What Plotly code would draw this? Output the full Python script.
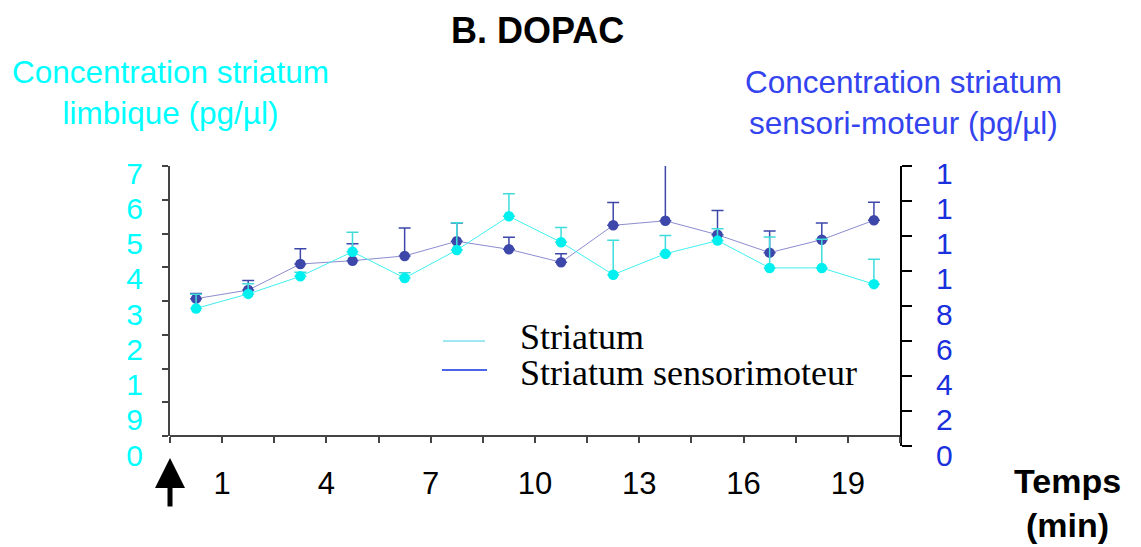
import plotly.graph_objects as go

# ---- data ----
samples = list(range(1, 15))
limbic_mean = [3.78, 4.21, 4.73, 5.46, 4.68, 5.51, 6.51, 5.74, 4.78, 5.40, 5.79, 4.98, 4.98, 4.50]
limbic_err = [0.42, 0.30, 0.12, 0.58, 0.16, 0.81, 0.67, 0.44, 1.02, 0.54, 0.35, 0.92, 0.85, 0.74]
sensori_mean = [8.42, 8.91, 10.40, 10.59, 10.86, 11.70, 11.24, 10.50, 12.61, 12.87, 12.07, 11.05, 11.79, 12.90]
sensori_err = [0.29, 0.55, 0.87, 0.97, 1.60, 1.05, 0.69, 0.49, 1.31, 3.26, 1.39, 1.24, 0.95, 1.03]

x_tick_vals = [i + 0.5 for i in range(0, 15)]
x_tick_text = ["", "1", "", "4", "", "7", "", "10", "", "13", "", "16", "", "19", ""]
left_tick_vals = list(range(0, 9))
left_tick_text = ["0", "9", "1", "2", "3", "4", "5", "6", "7"]
right_tick_vals = list(range(0, 17, 2))
right_tick_text = ["0", "2", "4", "6", "8", "1", "1", "1", "1"]

CYAN = "#00F0F0"
CYAN_TXT = "#00FFFF"
BLUE_PT = "#3D47AA"
BLUE_LINE = "#8C8CD0"
BLUE_TXT = "#1A30DD"
FONT = "Liberation Sans, Arial, sans-serif"
SERIF = "Liberation Serif, Times New Roman, serif"

fig = go.Figure()

fig.add_trace(go.Scatter(
    x=samples, y=sensori_mean, mode="lines+markers", xaxis="x", yaxis="y",
    line=dict(color=BLUE_LINE, width=1),
    marker=dict(color=BLUE_PT, size=10.5),
    error_y=dict(type="data", array=sensori_err, arrayminus=[0] * len(sensori_err),
                 symmetric=False, color=BLUE_PT, thickness=1.5, width=6),
    cliponaxis=False, showlegend=False, name="Striatum sensorimoteur"))

fig.add_trace(go.Scatter(
    x=samples, y=limbic_mean, mode="lines+markers", xaxis="x", yaxis="y2",
    line=dict(color="#40F0F0", width=1),
    marker=dict(color=CYAN, size=10.5),
    error_y=dict(type="data", array=limbic_err, arrayminus=[0] * len(limbic_err),
                 symmetric=False, color="#40DCDC", thickness=1.5, width=6),
    cliponaxis=False, showlegend=False, name="Striatum"))

# label-only axes
fig.add_trace(go.Scatter(x=[None], y=[None], xaxis="x", yaxis="y3", showlegend=False, hoverinfo="skip"))
fig.add_trace(go.Scatter(x=[None], y=[None], xaxis="x", yaxis="y4", showlegend=False, hoverinfo="skip"))

# plot area: top 150, bottom 470, left 170, right 900
T, B, L, R = 150, 470, 170, 900
def py(y):
    return (B - y) / (B - T)
def px(x):
    return (x - L) / (R - L)

main_dom = [py(436), py(166)]
right_dom = [py(446), py(166)]
lab_dom = [py(455), py(173)]

fig.update_layout(
    width=1141, height=547,
    margin=dict(l=L, r=1141 - R, t=T, b=547 - B),
    paper_bgcolor="white", plot_bgcolor="rgba(0,0,0,0)",
    font=dict(family=FONT, size=30, color="black"),
    xaxis=dict(range=[0.5, 14.5], anchor="free", position=main_dom[0],
               tickmode="array", tickvals=x_tick_vals, ticktext=x_tick_text,
               showline=True, linecolor="#444", linewidth=1.5,
               ticks="outside", ticklen=6, tickcolor="#444", tickwidth=1.5,
               showgrid=False, zeroline=False, ticklabelstandoff=14,
               tickfont=dict(size=31, color="black")),
    yaxis=dict(range=[0, 16], domain=right_dom, side="right", anchor="x",
               tickmode="array", tickvals=right_tick_vals, showticklabels=False,
               showline=True, linecolor="black", linewidth=2,
               ticks="outside", ticklen=10, tickcolor="black", tickwidth=2,
               showgrid=False, zeroline=False),
    yaxis2=dict(range=[0, 8], domain=main_dom, side="left", anchor="x",
                tickmode="array", tickvals=left_tick_vals, showticklabels=False,
                showline=True, linecolor="#444", linewidth=2,
                ticks="outside", ticklen=6, tickcolor="#444", tickwidth=1.5,
                showgrid=False, zeroline=False),
    yaxis3=dict(range=[0, 8], domain=lab_dom, side="left", anchor="free", position=0,
                tickmode="array", tickvals=left_tick_vals, ticktext=left_tick_text,
                showline=False, ticks="", showgrid=False, zeroline=False,
                ticklabelstandoff=27, tickfont=dict(size=30, color=CYAN_TXT)),
    yaxis4=dict(range=[0, 16], domain=lab_dom, side="right", anchor="free", position=1,
                tickmode="array", tickvals=right_tick_vals, ticktext=right_tick_text,
                showline=False, ticks="", showgrid=False, zeroline=False,
                ticklabelstandoff=35, tickfont=dict(size=30, color=BLUE_TXT)),
)

def a(text, x, y, size, color, family=FONT, xanchor="center"):
    return dict(text=text, x=px(x), y=py(y), xref="paper", yref="paper",
                xanchor=xanchor, yanchor="middle", showarrow=False,
                font=dict(size=size, color=color, family=family))

ann = [
    a("<b>B. DOPAC</b>", 537, 30, 36, "black"),
    a("Concentration striatum<br>limbique (pg/µl)", 170, 92.5, 31.5, CYAN_TXT),
    a("Concentration striatum<br>sensori-moteur (pg/µl)", 903, 102.5, 31.5, "#3344EE"),
    a("<b>Temps<br>(min)</b>", 1067, 503, 34, "black"),
    a("Striatum", 518, 337, 36, "black", SERIF, "left"),
    a("Striatum sensorimoteur", 518, 373, 36, "black", SERIF, "left"),
]
# start arrow
ann.append(dict(text="", x=0, y=py(458), xref="paper", yref="paper", showarrow=True,
                ax=0, ay=50, arrowhead=2, arrowwidth=5, arrowsize=1.2, arrowcolor="black"))
fig.update_layout(annotations=ann)

fig.add_shape(type="line", xref="paper", yref="paper", x0=px(443), x1=px(485), y0=py(341), y1=py(341),
              line=dict(color="#80E0F0", width=1.5))
fig.add_shape(type="line", xref="paper", yref="paper", x0=px(442), x1=px(487), y0=py(370), y1=py(370),
              line=dict(color="#1030E0", width=1.5))

fig.write_html("out.html", config={"displayModeBar": False},
               post_script="document.body.style.margin='0';")
